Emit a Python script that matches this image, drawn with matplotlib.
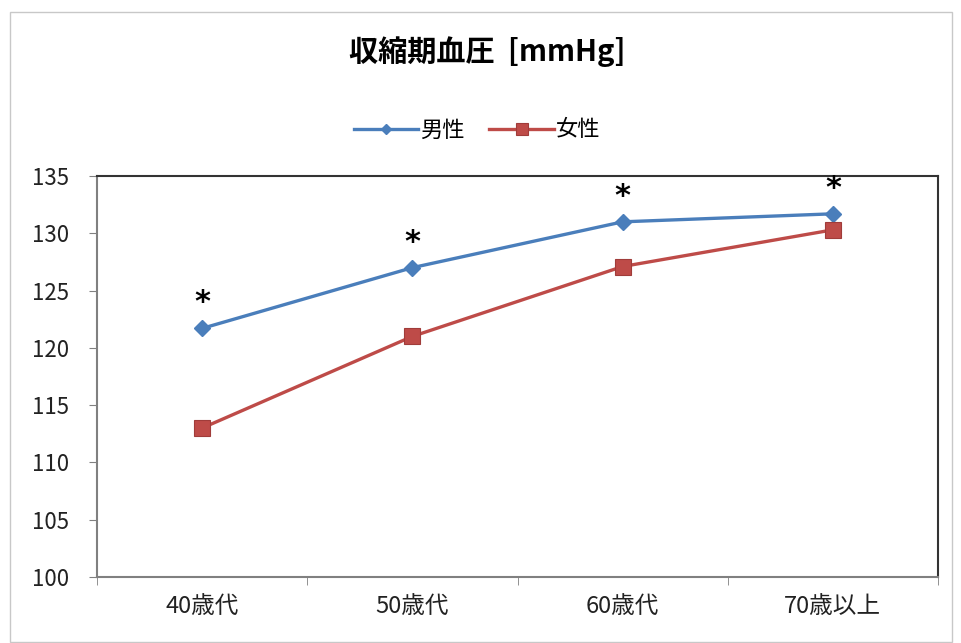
import matplotlib.pyplot as plt
import matplotlib.patches as patches

plt.rcParams['font.family'] = ['Noto Sans CJK JP', 'DejaVu Sans']

# Age groups and mean systolic blood pressure
age_groups = ['40歳代', '50歳代', '60歳代', '70歳以上']
male_bp = [121.7, 127.0, 131.0, 131.7]
female_bp = [113.0, 121.0, 127.1, 130.3]
significant = [True, True, True, True]

fig = plt.figure(figsize=(9.62, 6.43), dpi=100)
ax = fig.add_axes([97 / 962, 1 - 577 / 643, 841 / 962, 401 / 643])

# Outer chart frame
fig.patches.append(patches.Rectangle((10 / 962, 1 / 643), 942 / 962, 630 / 643,
                                     transform=fig.transFigure, fill=False,
                                     edgecolor='#c8c8c8', lw=1.0))

x = list(range(len(age_groups)))
ax.plot(x, male_bp, color='#4a7ebb', lw=2.4, marker='D', ms=8,
        markeredgecolor='#4a7ebb', label='男性', zorder=3)
ax.plot(x, female_bp, color='#be4b48', lw=2.4, marker='s', ms=12,
        markeredgecolor='#a03c3a', markeredgewidth=0.8, label='女性', zorder=3)

# Significance markers above the male series
for xi, yi, sig in zip(x, male_bp, significant):
    if sig:
        ax.annotate('*', (xi, yi), xytext=(0, 8), textcoords='offset points',
                    ha='center', va='bottom', fontsize=22, fontweight='bold',
                    family='DejaVu Sans', color='black')

ax.set_xlim(-0.5, len(age_groups) - 0.5)
ax.set_ylim(100, 135)
ax.set_yticks(range(100, 136, 5))
ax.set_xticks(x)
ax.set_xticklabels(age_groups, fontsize=17)
ax.set_xticks([i + 0.5 for i in range(-1, len(age_groups))], minor=True)
ax.tick_params(axis='x', which='major', length=0, pad=13)
ax.tick_params(axis='x', which='minor', length=6, direction='out', color='#808080')
ax.tick_params(axis='y', length=6, direction='out', color='#808080', labelsize=16, pad=14)
for lab in ax.get_yticklabels() + ax.get_xticklabels():
    lab.set_color('#222222')

for side in ['left', 'bottom']:
    ax.spines[side].set_color('#808080')
    ax.spines[side].set_linewidth(1.5)
for side in ['top', 'right']:
    ax.spines[side].set_color('#333333')
    ax.spines[side].set_linewidth(1.5)

fig.text(0.506, 1 - 52 / 643, '収縮期血圧  [mmHg]', ha='center', va='center',
         fontsize=21, fontweight='bold')

fig.legend(loc='center', bbox_to_anchor=(0.496, 1 - 130 / 643), ncol=2,
           frameon=False, fontsize=16, handlelength=2.9, columnspacing=1.1,
           handletextpad=0.1, markerscale=0.7)

fig.savefig('out.png', dpi=100, facecolor='white')
